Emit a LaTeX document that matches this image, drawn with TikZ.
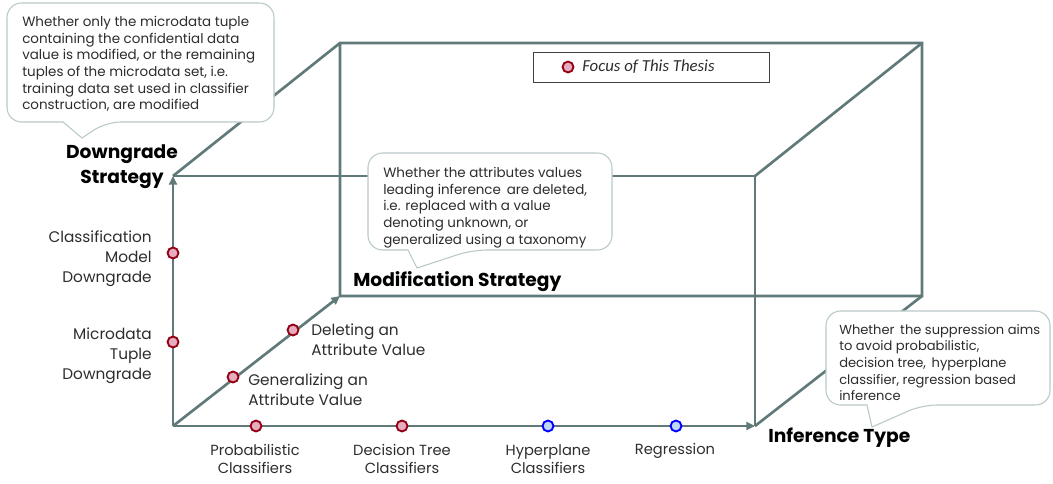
\documentclass[tikz,border=0pt]{standalone}
\usepackage{fontspec}
\setmainfont{Poppins}
\newfontfamily\legendfont{Carlito}
\usetikzlibrary{arrows.meta}

\definecolor{axisgray}{RGB}{96,122,122}
\definecolor{dotredfill}{RGB}{232,172,192}
\definecolor{dotredline}{RGB}{150,0,20}
\definecolor{dotbluefill}{RGB}{190,215,245}
\definecolor{dotblueline}{RGB}{0,0,255}
\definecolor{calloutline}{RGB}{185,200,200}
\definecolor{textgray}{RGB}{45,45,45}

\begin{document}
\begin{tikzpicture}[x=0.75pt,y=-0.75pt,
  edge/.style={draw=axisgray,line width=2pt},
  axis/.style={edge,-{Triangle[length=6.5pt,width=6pt]}},
  reddot/.style={circle,draw=dotredline,fill=dotredfill,line width=1.4pt,minimum size=8.2pt,inner sep=0pt},
  bluedot/.style={circle,draw=dotblueline,fill=dotbluefill,line width=1.4pt,minimum size=8.2pt,inner sep=0pt},
  axislabel/.style={font=\fontsize{11.5}{15}\selectfont,text=textgray,inner sep=0pt},
  ticklabel/.style={font=\fontsize{11}{13.9}\selectfont,text=textgray,inner sep=0pt,align=center},
  dimlabel/.style={font=\fontsize{14}{18.75}\bfseries\selectfont,text=black,inner sep=0pt},
  callouttext/.style={font=\fontsize{10.1}{12.5}\selectfont,text=textgray,inner sep=0pt,align=left,anchor=north west},
  calloutbox/.style={draw=calloutline,fill=white,line width=0.8pt},
]
\useasboundingbox (0,0) rectangle (1053,484);

% corners of the box
\coordinate (O) at (173,426);
\coordinate (FTL) at (173,176);
\coordinate (FTR) at (755,176);
\coordinate (FBR) at (755,426);
\coordinate (BTL) at (340,43);
\coordinate (BTR) at (922,43);
\coordinate (BBR) at (922,296);
\coordinate (BBL) at (340,296);

% box edges
\draw[edge] (FTL) -- (FTR) -- (FBR);
\draw[edge] (FTL) -- (BTL) -- (BTR) -- (BBR) -- (BBL) -- (BTL);
\draw[edge] (FTR) -- (BTR);
\draw[edge] (FBR) -- (BBR);

% the three dimensions
\draw[axis] (O) -- (FTL);
\draw[axis] (O) -- (FBR);
\draw[axis] (O) -- (BBL);

% values on each dimension
\node[reddot] (cmd) at (173,253) {};
\node[reddot] (mtd) at (173,342) {};
\node[reddot] (gen) at (233,377) {};
\node[reddot] (del) at (293,330) {};
\node[reddot] (prob) at (256,426) {};
\node[reddot] (dtree) at (402,426) {};
\node[bluedot] (hyper) at (548,426) {};
\node[bluedot] (regr) at (676,426) {};

% dimension names
\node[dimlabel,align=center] (downgrade) at (122,167) {Downgrade\\Strategy};
\node[dimlabel,anchor=west] (modif) at (353,282) {Modification Strategy};
\node[dimlabel,anchor=west] (inference) at (768,438) {Inference Type};

% value names
\node[axislabel,align=right,anchor=east] (cmdlab) at (152,259) {Classification\\Model\\Downgrade};
\node[axislabel,align=right,anchor=east] (mtdlab) at (152,356) {Microdata\\Tuple\\Downgrade};
\node[axislabel,align=left,anchor=west] (dellab) at (311,340) {Deleting an\\Attribute Value};
\node[axislabel,align=left,anchor=west] (genlab) at (248,390) {Generalizing an\\Attribute Value};
\node[ticklabel] (problab) at (255,459) {Probabilistic\\Classifiers};
\node[ticklabel] (dtreelab) at (402,459) {Decision Tree\\Classifiers};
\node[ticklabel] (hyperlab) at (548,459) {Hyperplane\\Classifiers};
\node[ticklabel] (regrlab) at (675,451) {Regression};

% legend
\node[draw=black!75,line width=0.7pt,minimum width=177pt,minimum height=23pt,inner sep=0pt] (legend) at (651,67.5) {};
\node[reddot] (legdot) at (568,67) {};
\node[font=\legendfont\itshape\fontsize{12.6}{14}\selectfont,text=textgray,anchor=west,inner sep=0pt] (legtext) at (582,67) {Focus of This Thesis};

% callout for the downgrade strategy
\draw[calloutbox,rounded corners=11pt] (63,122) -- (7,122) -- (7,3) -- (274,3) -- (274,122) -- (106,122)
  [sharp corners] -- (82,138) -- (63,122) -- cycle;
\node[callouttext] (ctop) at (22,16) {Whether only the microdata tuple\\containing the confidential data\\value is modified, or the remaining\\tuples of the microdata set, i.e.\\training data set used in classifier\\construction, are modified};

% callout for the modification strategy
\draw[calloutbox,rounded corners=11pt] (408,250) -- (368,250) -- (368,153) -- (612,153) -- (612,250) -- (472,250)
  [sharp corners] -- (417,268) -- (408,250) -- cycle;
\node[callouttext] (cmid) at (383,167) {Whether the attributes values\\leading inference\, are deleted,\\i.e. replaced with a value\\denoting unknown, or\\generalized using a taxonomy};

% callout for the inference type
\draw[calloutbox,rounded corners=11pt] (867,405) -- (826,405) -- (826,311) -- (1050,311) -- (1050,405) -- (922,405)
  [sharp corners] -- (872,427) -- (867,405) -- cycle;
\node[callouttext,font=\fontsize{9.8}{12.5}\selectfont] (cright) at (839,324) {Whether\, the suppression aims\\to avoid probabilistic,\\decision tree,\, hyperplane\\classifier, regression based\\inference};
\end{tikzpicture}
\end{document}
